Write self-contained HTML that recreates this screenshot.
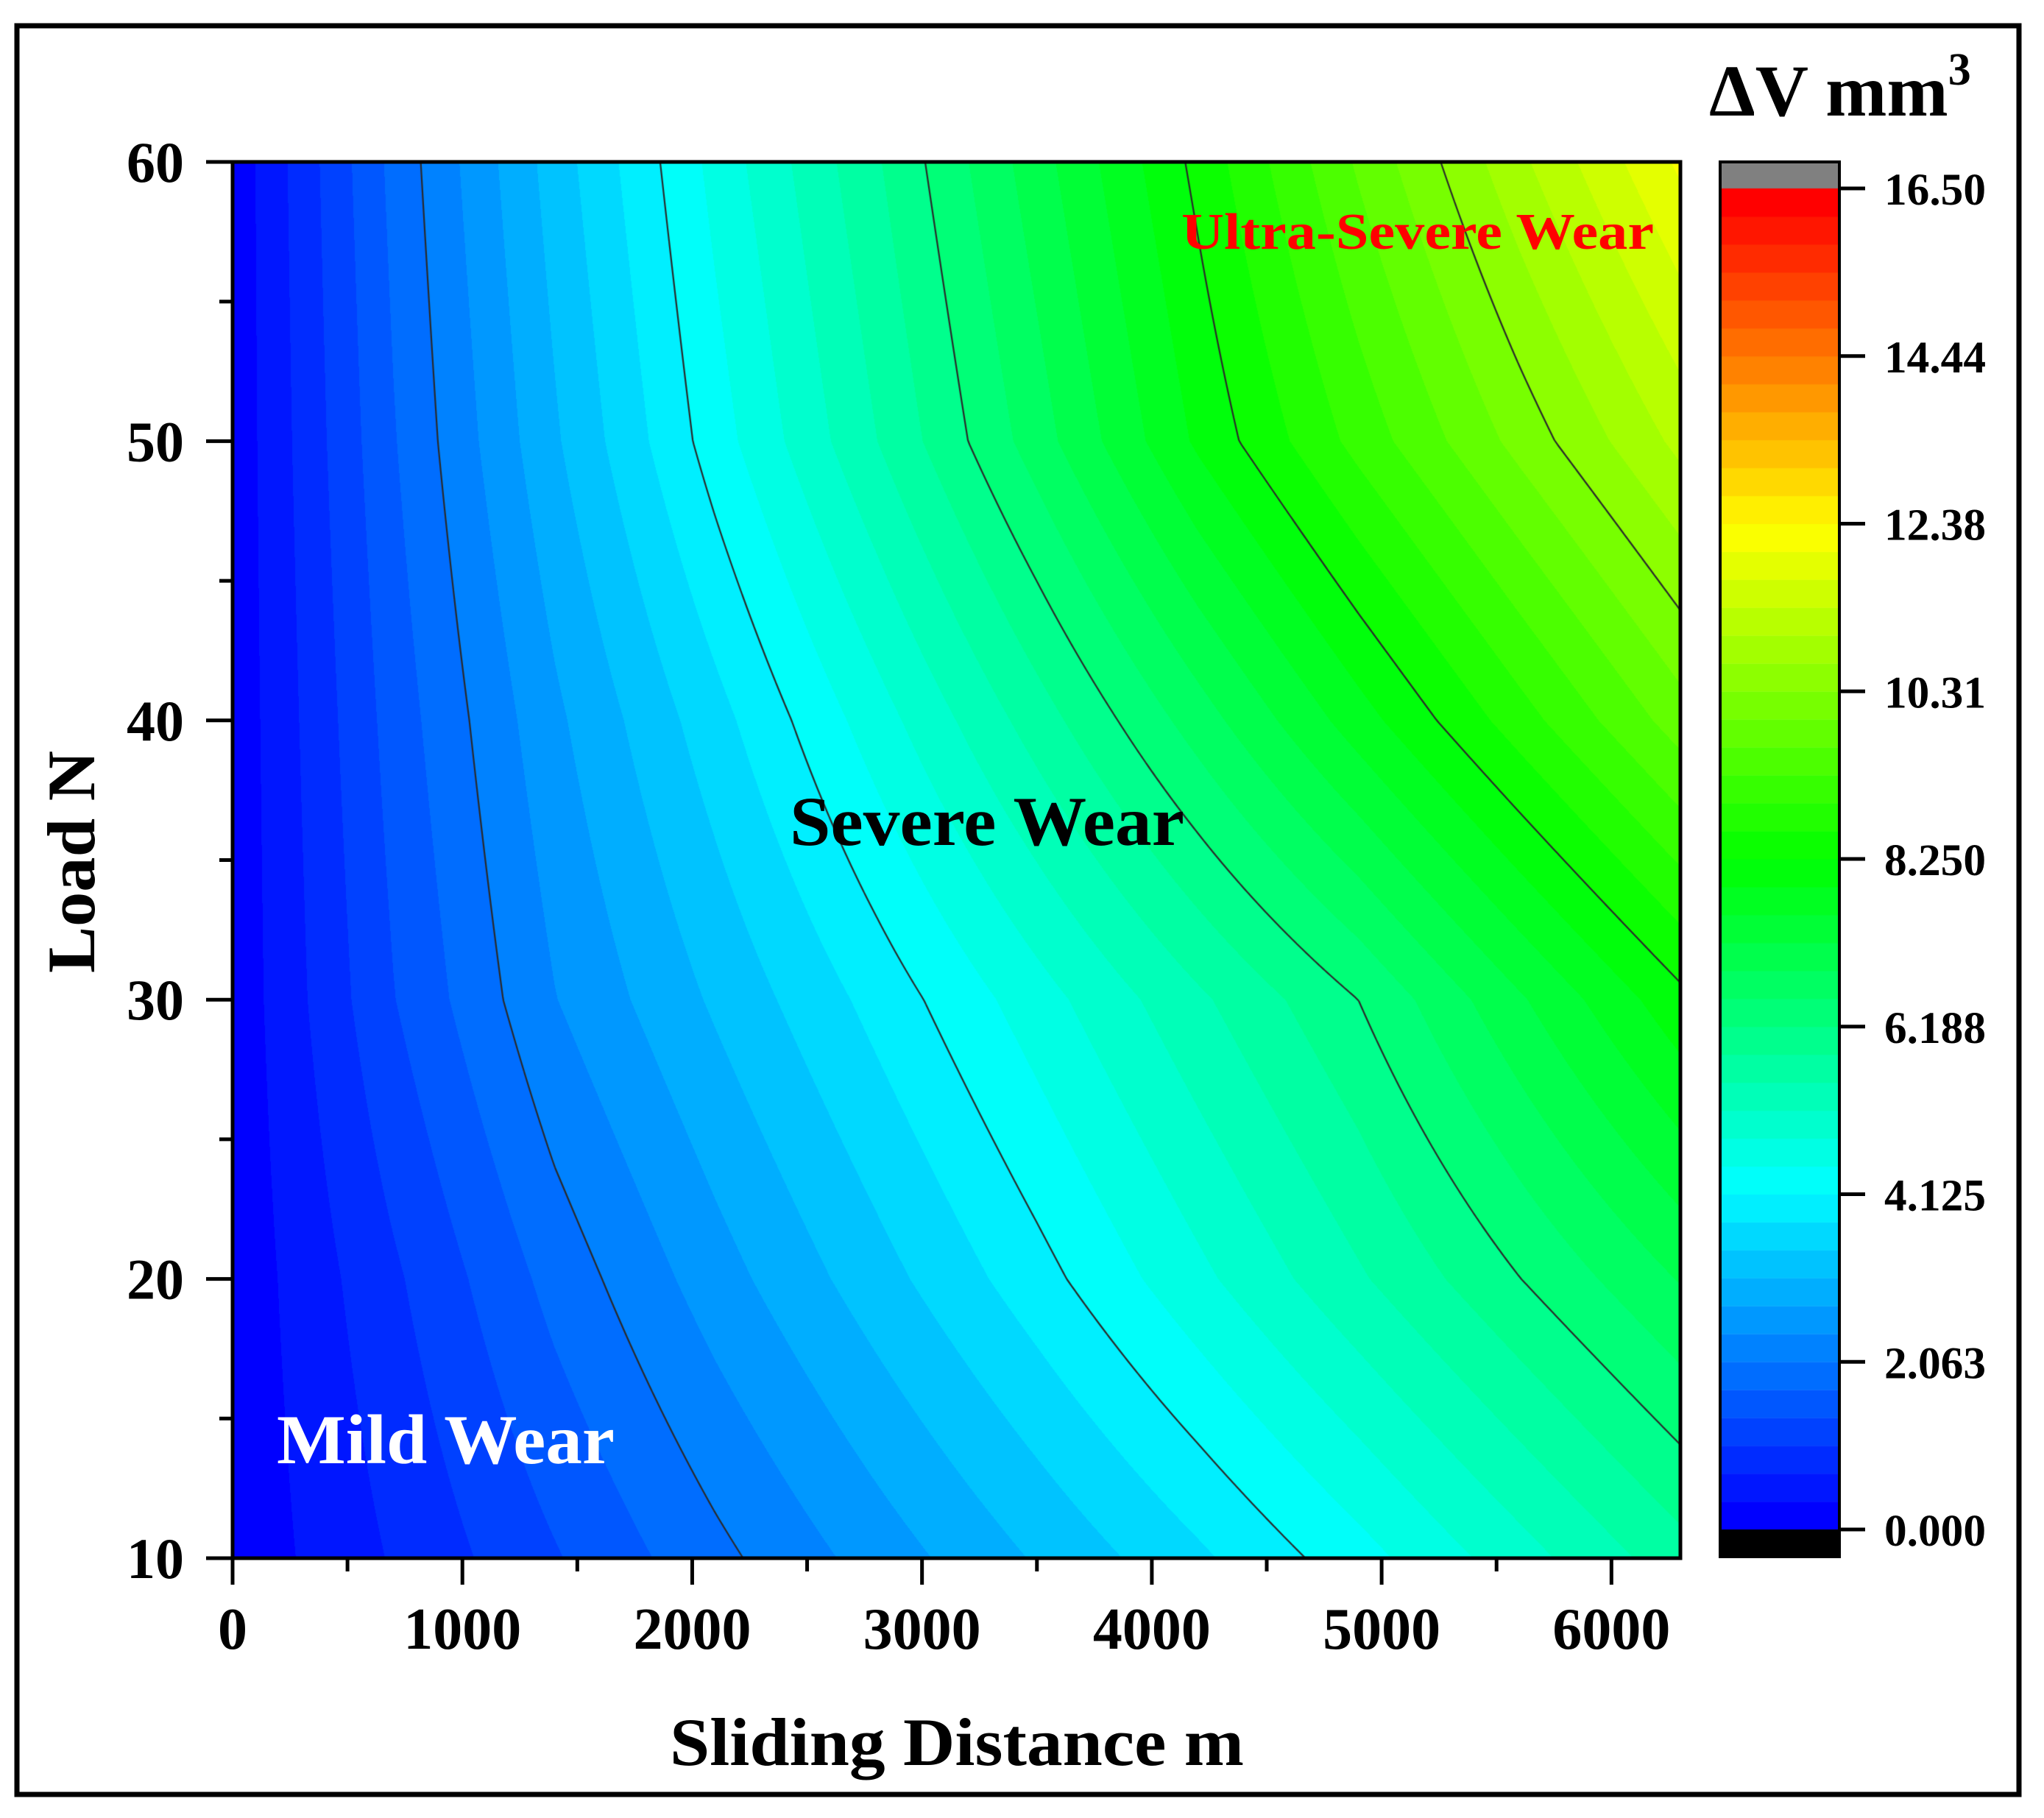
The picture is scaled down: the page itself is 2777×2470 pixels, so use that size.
<!DOCTYPE html>
<html><head><meta charset="utf-8">
<style>
html,body{margin:0;padding:0;background:#fff;}
#wrap{position:relative;width:2777px;height:2470px;overflow:hidden;}
canvas,svg{position:absolute;left:0;top:0;}
text{font-family:"Liberation Serif",serif;font-weight:bold;}
</style></head>
<body>
<div id="wrap">
<canvas id="cv" width="2777" height="2470"></canvas>
<svg id="sv" width="2777" height="2470"></svg>
</div>
<script>
// ---- data ----
const distances = [0,700,1400,2100,2800,3500,4200,4900,5600,6300];
const loads = [10,20,30,40,50,60];
const wear10 = [0.1,0.72,1.34,1.96,2.55,3.13,3.71,4.33,5.01,5.7];
const wear20 = [0.1,0.97,1.84,2.59,3.29,3.99,4.72,5.45,6.18,6.9];
const wear30 = [0.1,1.36,2.39,3.15,3.90,4.66,5.43,6.19,7.17,8.15];
const wear40 = [0.1,1.52,2.67,3.65,4.65,5.67,6.70,7.75,8.78,9.8];
const wear50 = [0.1,1.69,3.04,4.30,5.49,6.71,7.97,9.06,10.09,11.1];
const wear60 = [0.1,1.82,3.25,4.58,5.80,7.07,8.35,9.68,10.92,12.1];
const xTicks = [0,1000,2000,3000,4000,5000,6000];
const yTicks = [10,20,30,40,50,60];
const cbTickLabels = ["0.000","2.063","4.125","6.188","8.250","10.31","12.38","14.44","16.50"];
const contourLevels = [2.0625,4.125,6.1875,8.25,10.3125];

const grid=[wear10,wear20,wear30,wear40,wear50,wear60];
const PL=316,PR=2283,PT=220,PB=2117;
const XMIN=0,XMAX=6300,YMIN=10,YMAX=60;
const CB={l:2337,r:2499,top:220,zTop:256,zBot:2078,bot:2115,vmin:0,vmax:16.5,nb:48};
function sx(v){return PL+(v-XMIN)/(XMAX-XMIN)*(PR-PL);}
function sy(v){return PB-(v-YMIN)/(YMAX-YMIN)*(PB-PT);}
function cy(v){return CB.zBot-(v-CB.vmin)/(CB.vmax-CB.vmin)*(CB.zBot-CB.zTop);}
function cmap(z){
  const a=[[0,0,255],[0,255,255],[0,255,0],[255,255,0],[255,0,0]];
  let t=Math.max(0,Math.min(1,z/16.5))*4;let i=Math.min(3,Math.floor(t));let f=t-i;
  return a[i].map((c,k)=>Math.round(c+(a[i+1][k]-c)*f));
}
function bandColor(z){
  const step=(CB.vmax-CB.vmin)/CB.nb;
  let b=Math.floor((z-CB.vmin)/step);b=Math.max(0,Math.min(CB.nb-1,b));
  return cmap(b/(CB.nb-1)*16.5);
}
function findIdx(arr,v){for(let i=0;i<arr.length-2;i++){if(v<arr[i+1])return i;}return arr.length-2;}
function zAt(x,y){
  const i=findIdx(distances,x),j=findIdx(loads,y);
  const fx=(x-distances[i])/(distances[i+1]-distances[i]);
  const fy=(y-loads[j])/(loads[j+1]-loads[j]);
  const a=grid[j][i],b=grid[j][i+1],c=grid[j+1][i],d=grid[j+1][i+1];
  return (a*(1-fx)+b*fx)*(1-fy)+(c*(1-fx)+d*fx)*fy;
}
const cv=document.getElementById('cv');const ctx=cv.getContext('2d');
// filled contour
const W=PR-PL,H=PB-PT;const img=ctx.createImageData(W,H);
for(let py=0;py<H;py++){const yv=YMAX-(py+0.5)/H*(YMAX-YMIN);
  for(let px=0;px<W;px++){const xv=XMIN+(px+0.5)/W*(XMAX-XMIN);
    const c=bandColor(zAt(xv,yv));const k=(py*W+px)*4;
    img.data[k]=c[0];img.data[k+1]=c[1];img.data[k+2]=c[2];img.data[k+3]=255;}}
ctx.putImageData(img,PL,PT);
// contour lines via marching squares
ctx.strokeStyle='#2a2a2a';ctx.lineWidth=2.2;
const st=6,nx=Math.ceil(W/st),ny=Math.ceil(H/st);
const zg=[];for(let j=0;j<=ny;j++){zg.push([]);for(let i=0;i<=nx;i++){
  const px=Math.min(W,i*st),py=Math.min(H,j*st);
  zg[j].push(zAt(XMIN+px/W*(XMAX-XMIN),YMAX-py/H*(YMAX-YMIN)));}}
ctx.beginPath();
contourLevels.forEach(L=>{
  for(let j=0;j<ny;j++)for(let i=0;i<nx;i++){
    const x0=PL+i*st,x1=PL+Math.min(W,(i+1)*st),y0=PT+j*st,y1=PT+Math.min(H,(j+1)*st);
    const v=[zg[j][i],zg[j][i+1],zg[j+1][i+1],zg[j+1][i]];
    const pts=[];
    const e=[[0,1,[x0,y0],[x1,y0]],[1,2,[x1,y0],[x1,y1]],[2,3,[x1,y1],[x0,y1]],[3,0,[x0,y1],[x0,y0]]];
    e.forEach(([a,b,p,q])=>{if((v[a]<L)!==(v[b]<L)){const t=(L-v[a])/(v[b]-v[a]);pts.push([p[0]+(q[0]-p[0])*t,p[1]+(q[1]-p[1])*t]);}});
    for(let k=0;k+1<pts.length;k+=2){ctx.moveTo(pts[k][0],pts[k][1]);ctx.lineTo(pts[k+1][0],pts[k+1][1]);}
  }});
ctx.stroke();
// colorbar bands
const step=(CB.vmax-CB.vmin)/CB.nb;
for(let b=0;b<CB.nb;b++){const c=cmap(b/(CB.nb-1)*16.5);ctx.fillStyle=`rgb(${c[0]},${c[1]},${c[2]})`;
  const ya=cy(b*step),yb=cy((b+1)*step);ctx.fillRect(CB.l,yb,CB.r-CB.l,ya-yb+0.5);}
ctx.fillStyle='#808080';ctx.fillRect(CB.l,CB.top,CB.r-CB.l,CB.zTop-CB.top);
ctx.fillStyle='#000';ctx.fillRect(CB.l,CB.zBot,CB.r-CB.l,CB.bot-CB.zBot);

// ---- SVG overlay ----
const NS='http://www.w3.org/2000/svg';const sv=document.getElementById('sv');
function mk(tag,attrs,txt){const e=document.createElementNS(NS,tag);for(const k in attrs)e.setAttribute(k,attrs[k]);if(txt!==undefined)e.textContent=txt;sv.appendChild(e);return e;}
let e;
e=mk('rect',{x:23,y:35,width:2720,height:2403,fill:'none',stroke:'#000','stroke-width':7});

e=mk('rect',{x:PL,y:PT,width:PR-PL,height:PB-PT,fill:'none',stroke:'#000','stroke-width':5});

e=mk('rect',{x:CB.l,y:CB.top,width:CB.r-CB.l,height:CB.bot-CB.top,fill:'none',stroke:'#000','stroke-width':4});

// x ticks
xTicks.forEach(v=>{const x=sx(v);
  e=mk('line',{x1:x,y1:PB,x2:x,y2:PB+36,stroke:'#000','stroke-width':5});
  
  e=mk('text',{x:x,y:2240,'font-size':80,'text-anchor':'middle'},String(v));
  
  if(v+500<XMAX){const xm=sx(v+500);e=mk('line',{x1:xm,y1:PB,x2:xm,y2:PB+18,stroke:'#000','stroke-width':5});
  }
});
yTicks.forEach(v=>{const y=sy(v);
  e=mk('line',{x1:PL-36,y1:y,x2:PL,y2:y,stroke:'#000','stroke-width':5});
  
  e=mk('text',{x:250,y:y+27,'font-size':78,'text-anchor':'end'},String(v));
  
  if(v+5<=YMAX){const ym=sy(v+5);e=mk('line',{x1:PL-18,y1:ym,x2:PL,y2:ym,stroke:'#000','stroke-width':5});
  }
});
cbTickLabels.forEach((t,i)=>{const y=cy(i*16.5/8);
  e=mk('line',{x1:CB.r,y1:y,x2:CB.r+35,y2:y,stroke:'#000','stroke-width':5});
  
  e=mk('text',{x:2560,y:y+22,'font-size':61,textLength:138,lengthAdjust:'spacingAndGlyphs'},t);
  
});
e=mk('text',{x:1300,y:2398,'font-size':92,'text-anchor':'middle',textLength:780,lengthAdjust:'spacingAndGlyphs'},'Sliding Distance m');

e=mk('text',{x:0,y:0,'font-size':92,'text-anchor':'middle',transform:'translate(128,1171) rotate(-90)',textLength:302,lengthAdjust:'spacingAndGlyphs'},'Load N');

e=mk('text',{x:2322,y:157,'font-size':100});

e.innerHTML='ΔV mm<tspan dy="-42" font-size="62">3</tspan>';
e=mk('text',{x:376,y:1988,'font-size':95,fill:'#fff',textLength:459,lengthAdjust:'spacingAndGlyphs'},'Mild Wear');

e=mk('text',{x:1073,y:1148,'font-size':95,fill:'#000',textLength:536,lengthAdjust:'spacingAndGlyphs'},'Severe Wear');

e=mk('text',{x:1605,y:338,'font-size':70,fill:'#f00',textLength:642,lengthAdjust:'spacingAndGlyphs'},'Ultra-Severe Wear');

</script>
</body></html>
